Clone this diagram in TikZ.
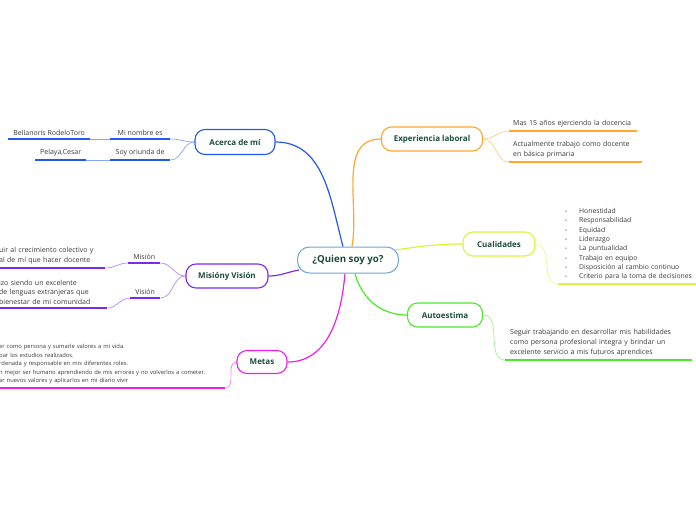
\documentclass[tikz,border=0pt]{standalone}
\usepackage{fontspec}
\setmainfont{Open Sans}
\usetikzlibrary{calc,backgrounds}

\definecolor{titlegreen}{HTML}{1D4D3F}
\definecolor{leafgray}{HTML}{3A3A3A}
\definecolor{corecol}{HTML}{6AA6D8}
\definecolor{acercacol}{HTML}{2457F0}
\definecolor{expcol}{HTML}{FFA62B}
\definecolor{cualcol}{HTML}{DDF23C}
\definecolor{autocol}{HTML}{4BE82C}
\definecolor{misioncol}{HTML}{7A2BEE}
\definecolor{metascol}{HTML}{EE1EEE}

\newcommand{\qitem}[1]{\hspace*{3pt}\makebox[14pt][l]{\fontsize{5}{5}\selectfont •}#1}

\tikzset{
  topic/.style={draw=#1,fill=white,rounded corners=10pt,line width=1.1pt,
    font=\bfseries\fontsize{8}{9}\selectfont,text=titlegreen,
    minimum height=24pt,inner sep=0pt},
  leaf/.style={font=\fontsize{7}{10}\selectfont,text=leafgray,
    inner xsep=0pt,inner ysep=3.5pt,align=left,anchor=south west},
  branch/.style={draw=#1,line width=1.2pt},
  twig/.style={draw=#1!55,line width=0.7pt},
  uline/.style={draw=#1,line width=1.4pt},
}

\begin{document}
\begin{tikzpicture}[x=1pt,y=1pt]
  \useasboundingbox (0,0) rectangle (696,-520);
  \clip (0,0) rectangle (696,-520);

  % main topics
  \node[topic=corecol,line width=1pt,minimum width=101pt,minimum height=26pt,
    rounded corners=12pt,font=\bfseries\fontsize{9.7}{11}\selectfont] (quien) at (348,-260) {¿Quien soy yo?};
  \node[topic=acercacol,minimum width=80pt,minimum height=25pt] (acerca) at (235,-142) {Acerca de mí};
  \node[topic=expcol,minimum width=101pt] (exper) at (432,-139) {Experiencia laboral};
  \node[topic=cualcol,minimum width=72pt] (cuali) at (499,-244) {Cualidades};
  \node[topic=autocol,minimum width=75pt] (autoe) at (445,-315) {Autoestima};
  \node[topic=misioncol,minimum width=82pt] (mision) at (227,-276) {Misióny Visión};
  \node[topic=metascol,minimum width=50pt,minimum height=23pt] (metas) at (262,-362) {Metas};

  % Acerca de mi
  \node[leaf,minimum width=60pt] (nombre) at (110,-139) {Mi nombre es};
  \node[leaf,minimum width=82pt] (bella) at (8,-139) {Bellanoris RodeloToro};
  \node[leaf,minimum width=60pt] (oriunda) at (110,-160) {Soy oriunda de};
  \node[leaf,minimum width=51pt] (pelaya) at (35,-160) {Pelaya,Cesar};

  % Experiencia laboral
  \node[leaf,inner xsep=4pt,text width=120pt] (exp1) at (509,-131) {Mas 15 años ejerciendo la docencia};
  \node[leaf,inner xsep=4pt,text width=125pt] (exp2) at (509,-162) {Actualmente trabajo como docente\\en básica primaria};

  % Cualidades
  \node[leaf,inner xsep=4pt,text width=134pt,font=\fontsize{6.8}{9.3}\selectfont] (lista) at (558,-284)
    {\qitem{Honestidad}\\\qitem{Responsabilidad}\\\qitem{Equidad}\\\qitem{Liderazgo}\\
     \qitem{La puntualidad}\\\qitem{Trabajo en equipo}\\\qitem{Disposición al cambio continuo}\\
     \qitem{Criterio para la toma de decisiones}};

  % Autoestima
  \node[leaf,inner xsep=5pt,text width=177pt] (seguir) at (505,-360)
    {Seguir trabajando en desarrollar mis habilidades\\como persona profesional integra y brindar un\\excelente servicio a mis futuros aprendices};

  % Mision y Vision
  \node[leaf,minimum width=32pt] (mis) at (128,-263) {Misión};
  \node[leaf,minimum width=30pt] (vis) at (130,-298) {Visión};
  \node[leaf,text width=106pt] (mistext) at (-1,-268) {uir al crecimiento colectivo y\\al de mí que hacer docente};
  \node[leaf,text width=108pt,font=\fontsize{7}{9.5}\selectfont] (vistext) at (-1,-308)
    {izo siendo un excelente\\de lenguas extranjeras que\\bienestar de mi comunidad};

  % Metas
  \node[leaf,text width=226pt,font=\fontsize{5.8}{8.6}\selectfont] (metastext) at (-1,-388)
    {er como persona y sumarle valores a mi vida.\\bar los estudios realizados.\\rdenada y responsable en mis diferentes roles.\\n mejor ser humano aprendiendo de mis errores y no volverlos a cometer.\\ar nuevos valores y aplicarlos en mi diario vivir};

  \begin{scope}[on background layer]
    % branches
    \draw[branch=acercacol] (acerca.east) to[out=0,in=105] ($(quien.north)+(-5,0)$);
    \draw[branch=expcol] ($(quien.north)+(4,0)$) to[out=80,in=180] (exper.west);
    \draw[branch=cualcol] ($(quien.east)+(-4,10)$) to[out=8,in=180] (cuali.west);
    \draw[branch=autocol] ($(quien.south)+(7,0)$) to[out=-75,in=180] (autoe.west);
    \draw[branch=metascol] ($(quien.south)+(-3,0)$) to[out=-95,in=0] (metas.east);
    \draw[branch=misioncol] ($(quien.west)+(2,-10)$) to[out=190,in=0] (mision.east);

    % twigs
    \draw[twig=acercacol] (acerca.west) to[out=180,in=0] (nombre.south east);
    \draw[twig=acercacol] (acerca.west) to[out=180,in=0] (oriunda.south east);
    \draw[twig=acercacol] (nombre.south west) -- (bella.south east);
    \draw[twig=acercacol] (oriunda.south west) -- (pelaya.south east);
    \draw[twig=expcol] (exper.east) to[out=0,in=180] (exp1.south west);
    \draw[twig=expcol] (exper.east) to[out=0,in=180] (exp2.south west);
    \draw[twig=cualcol] (cuali.east) to[out=0,in=180] (lista.south west);
    \draw[twig=autocol] (autoe.east) to[out=0,in=180] (seguir.south west);
    \draw[twig=misioncol] (mision.west) to[out=180,in=0] (mis.south east);
    \draw[twig=misioncol] (mision.west) to[out=180,in=0] (vis.south east);
    \draw[twig=misioncol] (mis.south west) to[out=180,in=0] (mistext.south east);
    \draw[twig=misioncol] (vis.south west) to[out=180,in=0] (vistext.south east);
    \draw[twig=metascol] (metas.west) to[out=180,in=0] (metastext.south east);
  \end{scope}

  % underlines
  \foreach \n in {nombre,bella,oriunda,pelaya}
    \draw[uline=acercacol] (\n.south west) -- (\n.south east);
  \foreach \n in {exp1,exp2}
    \draw[uline=expcol] (\n.south west) -- (\n.south east);
  \draw[uline=cualcol] (lista.south west) -- (lista.south east);
  \draw[uline=autocol] (seguir.south west) -- (seguir.south east);
  \foreach \n in {mis,vis,mistext,vistext}
    \draw[uline=misioncol] (\n.south west) -- (\n.south east);
  \draw[uline=metascol] (metastext.south west) -- (metastext.south east);
\end{tikzpicture}
\end{document}
